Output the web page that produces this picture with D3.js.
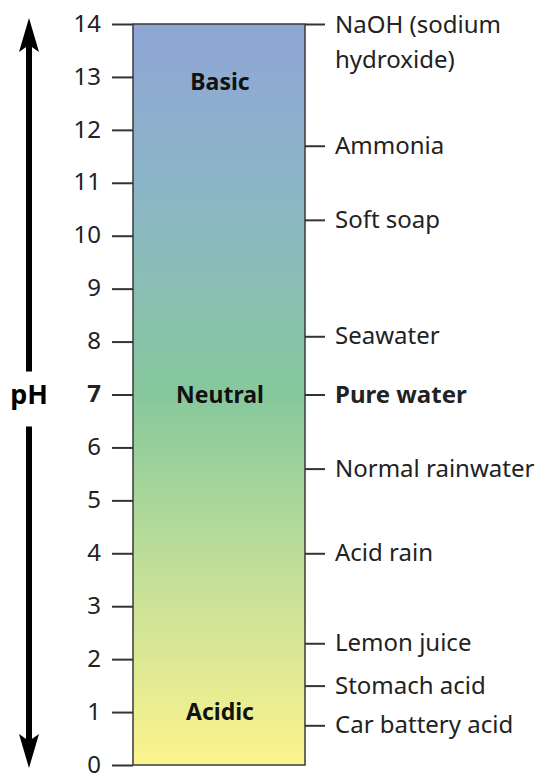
<!DOCTYPE html>
<html lang="en">
<head>
<meta charset="UTF-8">
<script src="https://d3js.org/d3.v7.min.js"></script>
<title>pH scale</title>
<style>
body { margin: 0; background: #fff; }
svg { display: block; font-family: "Noto Sans", "Open Sans", sans-serif; }
.axis text { font-size: 24px; fill: #222; font-family: "Noto Sans", "Open Sans", sans-serif; }
.axis path { display: none; }
.axis line { stroke: #333; stroke-width: 2; }
</style>
</head>
<body>
<svg id="chart" width="553" height="774"></svg>
<script>
// pH ticks on the left
const phTicks = [0, 1, 2, 3, 4, 5, 6, 7, 8, 9, 10, 11, 12, 13, 14]
// substances on the right
const substances = ["NaOH (sodium|hydroxide)", "Ammonia", "Soft soap", "Seawater", "Pure water",
    "Normal rainwater", "Acid rain", "Lemon juice", "Stomach acid", "Car battery acid"]
const substancePh = [14, 11.7, 10.3, 8.1, 7, 5.6, 4.0, 2.3, 1.5, 0.75]
// region labels inside the bar
const regions = ["Basic", "Neutral", "Acidic"]
const regionPh = [12.9, 7, 1]

var svg = d3.select("#chart")
var barLeft = 133, barRight = 305

var y = d3.scaleLinear().domain([0, 14]).range([765, 24])

// gradient
var defs = svg.append("defs")
var grad = defs.append("linearGradient")
    .attr("id", "phgrad")
    .attr("x1", 0).attr("y1", 0).attr("x2", 0).attr("y2", 1)
var stops = [[0, "#8fa6d6"], [0.25, "#8bb7c4"], [0.5, "#86c89c"], [0.75, "#c4e097"], [1, "#fcf48e"]]
grad.selectAll("stop").data(stops).enter().append("stop")
    .attr("offset", d => d[0])
    .attr("stop-color", d => d[1])

svg.append("rect")
    .attr("x", barLeft)
    .attr("y", y(14))
    .attr("width", barRight - barLeft)
    .attr("height", y(0) - y(14))
    .attr("fill", "url(#phgrad)")
    .attr("stroke", "#3a3a3a")
    .attr("stroke-width", 1.5)

// left axis
var yAxis = d3.axisLeft(y).tickValues(phTicks).tickSize(21).tickPadding(11).tickFormat(d3.format("d"))
svg.append("g")
    .attr("class", "axis")
    .attr("transform", `translate(${barLeft},0)`)
    .call(yAxis)
    .selectAll(".tick text")
    .attr("dy", "0.3em")
    .style("font-weight", d => d == 7 ? "bold" : "normal")

// right axis with substances
var rAxis = d3.axisRight(y).tickValues(substancePh).tickSize(20).tickPadding(10).tickFormat("")
var rg = svg.append("g")
    .attr("class", "axis")
    .attr("transform", `translate(${barRight},0)`)
    .call(rAxis)

rg.selectAll(".tick").each(function(d, i) {
    var lines = substances[i].split("|")
    var t = d3.select(this).select("text")
        .attr("dy", null)
        .style("font-weight", substances[i] == "Pure water" ? "bold" : "normal")
    if (lines.length > 1) {
        t.attr("y", 0)
        lines.forEach((l, j) => {
            t.append("tspan").attr("x", 30).attr("y", 8 + j * 35).text(l)
        })
    } else {
        t.attr("dy", "0.32em").text(lines[0])
    }
})

// region labels
svg.selectAll(".region")
    .data(regions)
    .enter().append("text")
    .attr("class", "region")
    .attr("x", (barLeft + barRight) / 2 + 1)
    .attr("y", (d, i) => y(regionPh[i]))
    .attr("dy", "0.35em")
    .attr("text-anchor", "middle")
    .style("font-size", "23px")
    .style("font-weight", "bold")
    .style("fill", "#111")
    .text(d => d)

// pH arrow
var ax = 29
svg.append("rect").attr("x", ax - 3).attr("y", 40).attr("width", 6).attr("height", y(7) - 23 - 40).attr("fill", "#000")
svg.append("rect").attr("x", ax - 3).attr("y", y(7) + 32).attr("width", 6).attr("height", 745 - y(7) - 32).attr("fill", "#000")
svg.append("path")
    .attr("d", `M${ax},18 L${ax + 10},52 L${ax},45 L${ax - 10},52 Z`)
    .attr("fill", "#000")
svg.append("path")
    .attr("d", `M${ax},768 L${ax + 10},734 L${ax},741 L${ax - 10},734 Z`)
    .attr("fill", "#000")
svg.append("text")
    .attr("x", ax)
    .attr("y", y(7))
    .attr("dy", "0.35em")
    .attr("text-anchor", "middle")
    .style("font-size", "27px")
    .style("font-weight", "bold")
    .text("pH")
</script>
</body>
</html>
